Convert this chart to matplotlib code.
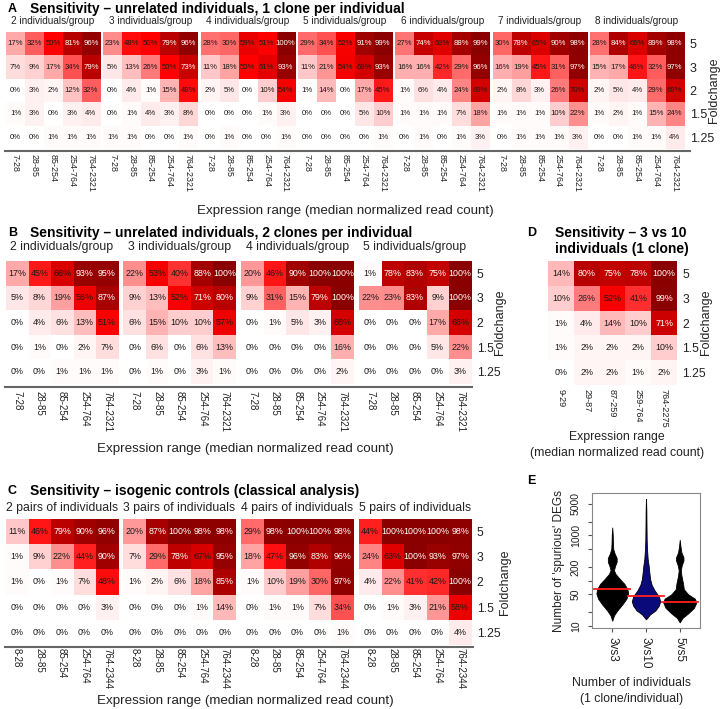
import numpy as np
import matplotlib
matplotlib.use("Agg")
import matplotlib.pyplot as plt
from matplotlib.colors import LinearSegmentedColormap
from matplotlib.lines import Line2D

plt.rcParams['font.family'] = ['Liberation Sans', 'DejaVu Sans']

# ---------------- data ----------------
fold_rows = ['5', '3', '2', '1.5', '1.25']
ranges_a = ['7-28', '28-85', '85-254', '254-764', '764-2321']
ranges_b = ['7-28', '28-85', '85-254', '254-764', '764-2321']
ranges_c = ['8-28', '28-85', '85-254', '254-764', '764-2344']
ranges_d = ['9-29', '29-87', '87-259', '259-764', '764-2275']

titles_a = ['2 individuals/group', '3 individuals/group', '4 individuals/group',
            '5 individuals/group', '6 individuals/group', '7 individuals/group',
            '8 individuals/group']
titles_b = ['2 individuals/group', '3 individuals/group', '4 individuals/group',
            '5 individuals/group']
titles_c = ['2 pairs of individuals', '3 pairs of individuals',
            '4 pairs of individuals', '5 pairs of individuals']

a_2 = [[17, 32, 50, 81, 96], [7, 9, 17, 34, 79], [0, 3, 2, 12, 32], [1, 3, 0, 3, 4], [0, 0, 1, 1, 1]]
a_3 = [[23, 48, 50, 79, 96], [5, 13, 26, 50, 73], [0, 4, 1, 15, 48], [0, 1, 4, 3, 8], [1, 1, 0, 0, 1]]
a_4 = [[28, 30, 59, 51, 100], [11, 18, 50, 61, 93], [2, 5, 0, 10, 54], [0, 0, 0, 1, 3], [0, 1, 0, 0, 1]]
a_5 = [[29, 34, 52, 91, 99], [11, 21, 54, 69, 93], [1, 14, 0, 17, 45], [0, 0, 0, 5, 10], [0, 0, 0, 0, 1]]
a_6 = [[27, 74, 63, 88, 99], [16, 16, 42, 29, 96], [1, 6, 4, 24, 69], [1, 1, 1, 7, 18], [0, 1, 0, 1, 3]]
a_7 = [[30, 78, 65, 90, 98], [16, 19, 45, 31, 97], [2, 8, 3, 26, 70], [1, 1, 1, 10, 22], [0, 1, 1, 1, 3]]
a_8 = [[28, 84, 66, 89, 98], [15, 17, 46, 32, 97], [2, 5, 4, 29, 69], [1, 2, 1, 15, 24], [0, 0, 1, 1, 4]]

b_2 = [[17, 45, 66, 93, 95], [5, 8, 19, 56, 87], [0, 4, 6, 13, 51], [0, 1, 0, 2, 7], [0, 0, 1, 1, 1]]
b_3 = [[22, 53, 40, 88, 100], [9, 13, 52, 71, 80], [6, 15, 10, 10, 57], [0, 6, 0, 6, 13], [0, 1, 0, 3, 1]]
b_4 = [[20, 46, 90, 100, 100], [9, 31, 15, 79, 100], [0, 1, 5, 3, 68], [0, 0, 0, 0, 16], [0, 0, 0, 0, 2]]
b_5 = [[1, 78, 83, 75, 100], [22, 23, 83, 9, 100], [0, 0, 0, 17, 68], [0, 0, 0, 5, 22], [0, 0, 0, 0, 3]]

c_2 = [[11, 46, 79, 90, 96], [1, 9, 22, 44, 90], [1, 0, 1, 7, 48], [0, 0, 0, 0, 3], [0, 0, 0, 0, 0]]
c_3 = [[20, 87, 100, 98, 98], [7, 29, 78, 67, 95], [1, 2, 6, 18, 85], [0, 0, 0, 1, 14], [0, 0, 0, 0, 0]]
c_4 = [[29, 98, 100, 100, 98], [18, 47, 96, 83, 96], [1, 10, 19, 30, 97], [0, 1, 1, 7, 34], [0, 0, 0, 0, 1]]
c_5 = [[44, 100, 100, 100, 98], [24, 63, 100, 93, 97], [4, 22, 41, 42, 100], [0, 1, 3, 21, 58], [0, 0, 0, 0, 4]]

d_10 = [[14, 80, 75, 78, 100], [10, 26, 52, 41, 99], [1, 4, 14, 10, 71], [1, 2, 2, 2, 10], [0, 2, 2, 1, 2]]

# panel E: violin outlines (value, half-width)
e_groups = ['3vs3', '3vs10', '5vs5']
e_medians = [64, 46, 34]
v33_val = [13, 17, 22, 30, 40, 52, 65, 85, 110, 140, 170, 210, 260, 320, 400, 500, 700, 1000, 1500]
v33_hw = [0, 0.05, 0.15, 0.30, 0.42, 0.47, 0.45, 0.36, 0.22, 0.10, 0.05, 0.08, 0.13, 0.13, 0.07, 0.03, 0.02, 0.015, 0]
v310_val = [14, 18, 22, 28, 35, 45, 60, 80, 110, 150, 210, 300, 500, 800, 1600, 3500, 6500]
v310_hw = [0, 0.12, 0.28, 0.38, 0.42, 0.38, 0.26, 0.17, 0.12, 0.10, 0.08, 0.05, 0.03, 0.02, 0.015, 0.01, 0]
v55_val = [12, 15, 19, 25, 33, 40, 50, 65, 85, 100, 130, 170, 220, 280, 330, 420, 580, 800]
v55_hw = [0, 0.08, 0.25, 0.42, 0.49, 0.45, 0.25, 0.12, 0.10, 0.08, 0.05, 0.03, 0.06, 0.11, 0.11, 0.05, 0.02, 0]
e_colors = ['black', '#0a0a7a', 'black']

# ---------------- drawing ----------------
W, H = 724, 709
fig = plt.figure(figsize=(W / 100, H / 100), dpi=100)
cmap = LinearSegmentedColormap.from_list('wr', [(0, '#ffffff'), (0.5, '#ff0000'), (1.0, '#8a0000')])
TXT = '#222222'
TITLE_FS = 10
XLAB_FS = 9.6


def px_axes(x0, y0, x1, y1):
    return fig.add_axes([x0 / W, 1 - y1 / H, (x1 - x0) / W, (y1 - y0) / H])


def ftext(x, y, s, **kw):
    fig.text(x / W, 1 - y / H, s, **kw)


def hline(x0, x1, y):
    fig.add_artist(Line2D([x0 / W, x1 / W], [1 - y / H, 1 - y / H], color='#666666', lw=1.5,
                          transform=fig.transFigure))


def heat(ax, data, xlabels, cell_fs, tick_fs, tick_pad, rows=False, row_fs=9):
    arr = np.array(data, dtype=float)
    ax.imshow(arr, cmap=cmap, vmin=0, vmax=100, aspect='auto', interpolation='nearest')
    for i in range(arr.shape[0]):
        for j in range(arr.shape[1]):
            v = arr[i, j]
            ax.text(j, i, f"{int(v)}%", ha='center', va='center', fontsize=cell_fs,
                    color='white' if v >= 71 else '#1a1a1a')
    ax.set_xticks(range(len(xlabels)))
    ax.set_xticklabels(xlabels, rotation=-90, fontsize=tick_fs, color=TXT)
    ax.tick_params(axis='x', length=0, pad=tick_pad)
    if rows:
        ax.yaxis.tick_right()
        ax.set_yticks(range(len(fold_rows)))
        ax.set_yticklabels(fold_rows, fontsize=row_fs, color=TXT)
        ax.tick_params(axis='y', length=0, pad=4)
    else:
        ax.set_yticks([])
    for s in ax.spines.values():
        s.set_visible(False)


# ----- Panel A -----
ftext(8, 9, 'A', fontsize=9, fontweight='bold', va='center')
ftext(30, 9, 'Sensitivity – unrelated individuals, 1 clone per individual', fontsize=TITLE_FS,
      fontweight='bold', va='center')
a_sets = [a_2, a_3, a_4, a_5, a_6, a_7, a_8]
for k, d in enumerate(a_sets):
    x0 = 6 + k * 97.3
    ax = px_axes(x0, 32, x0 + 94.3, 149)
    heat(ax, d, ranges_a, 5.6, 6.4, 3.5, rows=(k == len(a_sets) - 1), row_fs=9)
    ftext(x0 + 47, 21, titles_a[k], fontsize=7.2, ha='center', va='center', color=TXT)
hline(5, 690, 151)
ftext(345, 211, 'Expression range (median normalized read count)', fontsize=XLAB_FS, ha='center',
      va='center', color=TXT)
ftext(714, 90, 'Foldchange', fontsize=9, rotation=90, ha='center', va='center', color=TXT)

# ----- Panel B -----
ftext(8, 233, 'B', fontsize=9, fontweight='bold', va='center')
ftext(30, 233, 'Sensitivity – unrelated individuals, 2 clones per individual', fontsize=TITLE_FS,
      fontweight='bold', va='center')
b_sets = [b_2, b_3, b_4, b_5]
for k, d in enumerate(b_sets):
    x0 = 5.75 + k * 117.7
    ax = px_axes(x0, 261, x0 + 112.5, 384)
    heat(ax, d, ranges_b, 6.4, 7.0, 5, rows=(k == len(b_sets) - 1), row_fs=8.8)
    ftext(x0 + 56, 247, titles_b[k], fontsize=8.8, ha='center', va='center', color=TXT)
hline(5, 472, 387)
ftext(245, 449, 'Expression range (median normalized read count)', fontsize=XLAB_FS, ha='center',
      va='center', color=TXT)
ftext(500, 322, 'Foldchange', fontsize=9, rotation=90, ha='center', va='center', color=TXT)

# ----- Panel D -----
ftext(527, 233, 'D', fontsize=9, fontweight='bold', va='center')
ftext(555, 233, 'Sensitivity – 3 vs 10', fontsize=TITLE_FS, fontweight='bold', va='center')
ftext(555, 249, 'individuals (1 clone)', fontsize=TITLE_FS, fontweight='bold', va='center')
ax = px_axes(548, 261, 677, 385)
heat(ax, d_10, ranges_d, 6.4, 6.6, 3, rows=True, row_fs=8.8)
ftext(617, 437, 'Expression range', fontsize=8.8, ha='center', va='center', color=TXT)
ftext(617, 453, '(median normalized read count)', fontsize=8.8, ha='center', va='center',
      color=TXT)
ftext(706, 322, 'Foldchange', fontsize=9, rotation=90, ha='center', va='center', color=TXT)

# ----- Panel C -----
ftext(8, 491, 'C', fontsize=9, fontweight='bold', va='center')
ftext(30, 491, 'Sensitivity – isogenic controls (classical analysis)', fontsize=TITLE_FS,
      fontweight='bold', va='center')
c_sets = [c_2, c_3, c_4, c_5]
for k, d in enumerate(c_sets):
    x0 = 5.75 + k * 117.7
    ax = px_axes(x0, 519, x0 + 112.5, 645)
    heat(ax, d, ranges_c, 6.4, 7.0, 2.5, rows=(k == len(c_sets) - 1), row_fs=8.8)
    ftext(x0 + 56, 508, titles_c[k], fontsize=8.8, ha='center', va='center', color=TXT)
hline(5, 473, 647)
ftext(245, 701, 'Expression range (median normalized read count)', fontsize=XLAB_FS, ha='center',
      va='center', color=TXT)
ftext(505, 582, 'Foldchange', fontsize=9, rotation=90, ha='center', va='center', color=TXT)

# ----- Panel E -----
ftext(527, 481, 'E', fontsize=9, fontweight='bold', va='center')
axe = px_axes(592, 493, 700, 628)
profiles = [(v33_val, v33_hw), (v310_val, v310_hw), (v55_val, v55_hw)]
for i, (vals, hws) in enumerate(profiles):
    pos = i + 1
    vals = np.array(vals, dtype=float)
    hws = np.array(hws, dtype=float)
    axe.fill_betweenx(vals, pos - hws, pos + hws, color=e_colors[i], edgecolor='black', lw=0.6)
    axe.plot([pos - 0.53, pos + 0.53], [e_medians[i], e_medians[i]], color='#ff2020', lw=1.3)
axe.set_yscale('log')
axe.set_ylim(9, 8700)
axe.set_xlim(0.4, 3.6)
axe.set_yticks([10, 20, 50, 100, 200, 500, 1000, 2000, 5000])
axe.set_yticklabels(['10', '', '50', '', '200', '', '1000', '', '5000'], rotation=90,
                    va='center', fontsize=7.5, color=TXT)
axe.yaxis.set_minor_locator(matplotlib.ticker.NullLocator())
axe.set_xticks([1, 2, 3])
axe.set_xticklabels(e_groups, rotation=-90, fontsize=8.5, color=TXT)
axe.tick_params(length=3, color='#555555', width=0.8)
axe.tick_params(axis='y', pad=5)
for s in axe.spines.values():
    s.set_color('#888888')
    s.set_linewidth(0.8)
axe.set_ylabel("Number of 'spurious' DEGs", fontsize=8.5, color=TXT, labelpad=4)
ftext(632, 683, 'Number of individuals', fontsize=8.8, ha='center', va='center', color=TXT)
ftext(632, 699, '(1 clone/individual)', fontsize=8.8, ha='center', va='center', color=TXT)

fig.savefig('out.png', dpi=100)
